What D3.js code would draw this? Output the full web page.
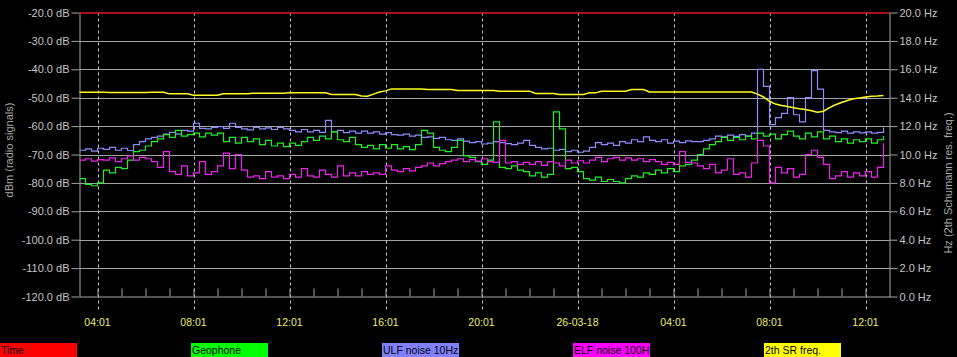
<!DOCTYPE html>
<html>
<head>
<meta charset="utf-8">
<script src="https://cdn.jsdelivr.net/npm/d3@7"></script>
<style>
html,body{margin:0;padding:0;background:#000;}
svg{display:block;}
text{font-family:"Liberation Sans",Arial,sans-serif;}
</style>
</head>
<body>
<svg id="chart" width="957" height="357"></svg>
<script>
// ---------------- DATA ----------------
// sampling: first sample 25-03-18 03:16 (UTC), one sample every 15 minutes
const startTime = "2018-03-25T03:16:00Z";
const sampleMinutes = 15;
const seriesNames = ["Time", "Geophone", "ULF noise 10Hz", "ELF noise 100H", "2th SR freq."];

// Time reference line (dB)
const timeLine = [-20, -20];

// ULF noise 10Hz (dBm)
const ulf = [
 -68.5,-68,-68.8,-67.8,-68.2,-67.5,-68.5,-67.8,-68.6,-66.5,
 -65.5,-64.5,-64,-63.5,-62.8,-62.2,-62.8,-61.5,-61.8,-59,
 -60.8,-61,-60.5,-60.2,-60.8,-59,-60.5,-61,-61.3,-60.5,
 -61,-60.6,-61.2,-60.5,-61,-61.5,-62,-61.2,-62,-61.5,
 -62.2,-58,-62,-61.5,-62.3,-61.8,-62.5,-61.8,-62.5,-62,
 -62.8,-62.3,-63,-63.2,-62.8,-63.5,-63.2,-64,-63.8,-64.3,
 -64,-64.8,-65,-64.5,-65.3,-65.8,-65.5,-66.3,-66,-65.5,
 -65.8,-66.2,-66.5,-66,-65,-66.8,-67.5,-68,-67.8,-68.5,
 -68.2,-69,-68.5,-69.2,-68.8,-67.5,-65.8,-66.5,-66,-66.8,
 -65.5,-66,-64.8,-65.5,-63.8,-65,-65.5,-64.8,-66,-65.3,
 -65.8,-65.2,-65.5,-65.5,-65,-64.5,-63.5,-63.8,-63.2,-63.6,
 -63,-63.5,-62.5,-40,-46,-59.5,-57,-55.5,-50,-56,
 -58.5,-50,-40.5,-47,-61.5,-62,-62.3,-61.8,-62.5,-62,
 -62.4,-62,-62.5,-62.2,-60.5
];

// Geophone (dBm)
const geophone = [
 -78.5,-80.5,-81,-80,-75.5,-76.5,-74.5,-75,-72,-69,
 -68.5,-67,-65.5,-64.5,-63,-64,-61.5,-63.5,-63,-62.5,
 -63.8,-62.5,-63.2,-62.5,-65.5,-64,-66,-64,-65.5,-64.5,
 -66.5,-65,-67,-66,-67.2,-66,-66.8,-65.5,-64,-65,
 -63.5,-64.5,-62,-64.8,-65.5,-64,-66.5,-67.5,-66.8,-68,
 -66.5,-67.8,-66.5,-68,-67.2,-68.3,-66.5,-61.5,-62.5,-67.5,
 -68.5,-69,-67.5,-65,-70.5,-71,-72.5,-73.5,-72,-58.5,
 -74.5,-75,-74,-75.5,-76,-77.5,-76.5,-78,-77,-55,
 -61,-75,-74.5,-76,-78.5,-79,-78,-79.5,-78.8,-79.5,
 -80,-78.5,-77.5,-78,-76.5,-77,-75.5,-76.5,-75,-76,
 -74,-73.5,-72,-70,-68,-66.5,-65.5,-64,-65,-64,
 -64.8,-63.5,-64.5,-62.5,-63.5,-62.8,-64.5,-63,-61.8,-63.5,
 -64.5,-62.5,-63.8,-62,-64.5,-63.5,-65.5,-64.5,-66,-64.8,
 -65.5,-64.5,-66,-64.8,-63.5
];

// ELF noise 100Hz (dBm)
const elf = [
 -72,-71.5,-72.3,-71.8,-72,-71.2,-72.5,-71.5,-70.5,-72,
 -71,-71.5,-72.5,-74.5,-69,-76,-77,-74,-77.5,-76.5,
 -72.5,-77,-76,-74,-69.5,-75,-70,-75.5,-78,-77.5,
 -78.5,-76,-78,-77.5,-78.5,-77,-78,-75,-77.5,-78,
 -75.5,-77,-78,-74,-77.5,-76.5,-77.5,-76,-77,-76.5,
 -77,-74,-75.5,-76,-75,-75.8,-74.5,-74,-73,-74,
 -73.2,-72.5,-72,-71.5,-72.5,-71.8,-72.3,-71.5,-72.5,-72.8,
 -65,-73,-72.5,-73.5,-72.8,-73.5,-72.5,-73.8,-72.5,-73,
 -74,-72,-73,-72.2,-73,-72,-71,-72.5,-71.5,-71,
 -72,-71.2,-72,-71.5,-72.5,-71.8,-72.5,-73.5,-72.8,-73.5,
 -69,-72.8,-73,-74,-75,-73.5,-76.5,-75.5,-71.5,-77,
 -76.5,-78,-73,-65,-67,-80,-74.5,-76.5,-75,-78,
 -77,-70,-68.5,-71,-73.5,-78.5,-77.5,-76,-78,-76.5,
 -77.5,-76,-78,-74.5,-66
];

// 2nd Schumann resonance frequency (Hz, right axis)
const srFreq = [
 14.39,14.39,14.39,14.39,14.39,14.36,14.36,14.36,14.36,14.36,
 14.36,14.36,14.39,14.39,14.39,14.27,14.27,14.27,14.27,14.18,
 14.18,14.18,14.18,14.18,14.27,14.27,14.27,14.27,14.27,14.32,
 14.32,14.32,14.32,14.32,14.32,14.34,14.34,14.34,14.34,14.34,
 14.34,14.34,14.22,14.22,14.22,14.22,14.22,14.12,14.1,14.25,
 14.4,14.48,14.62,14.62,14.62,14.62,14.62,14.62,14.58,14.58,
 14.58,14.58,14.58,14.5,14.5,14.5,14.5,14.5,14.5,14.5,
 14.46,14.46,14.46,14.46,14.46,14.46,14.3,14.3,14.3,14.3,
 14.22,14.22,14.22,14.22,14.22,14.34,14.34,14.46,14.46,14.46,
 14.46,14.46,14.58,14.58,14.58,14.4,14.4,14.4,14.4,14.4,
 14.4,14.4,14.4,14.4,14.4,14.4,14.4,14.4,14.4,14.4,
 14.4,14.4,14.4,14.25,14.05,13.75,13.55,13.45,13.38,13.3,
 13.22,13.17,13.08,12.98,13.05,13.3,13.5,13.66,13.8,13.92,
 13.98,14.05,14.1,14.12,14.15
];

// axis ticks
const dbTicks = [-120,-110,-100,-90,-80,-70,-60,-50,-40,-30,-20];
const hzTicks = [0,2,4,6,8,10,12,14,16,18,20];
const xTickTimes = ["2018-03-25T04:01:00Z","2018-03-25T08:01:00Z","2018-03-25T12:01:00Z",
  "2018-03-25T16:01:00Z","2018-03-25T20:01:00Z","2018-03-26T00:01:00Z",
  "2018-03-26T04:01:00Z","2018-03-26T08:01:00Z","2018-03-26T12:01:00Z"];
const xTickLabels = ["04:01","08:01","12:01","16:01","20:01","26-03-18","04:01","08:01","12:01"];
const xDomain = ["2018-03-25T03:16:00Z","2018-03-26T13:01:00Z"];

// ---------------- DRAW ----------------
const svg = d3.select("#chart");
const L = 79.5, R = 889.5, T = 12.5, B = 296.5;
const t0 = new Date(startTime).getTime();
const timeAt = i => new Date(t0 + i * sampleMinutes * 60000);

const x = d3.scaleUtc().domain(xDomain.map(d => new Date(d))).range([L, R]);
const y = d3.scaleLinear().domain([-120, -20]).range([B, T]);
const yHz = d3.scaleLinear().domain([0, 20]).range([B, T]);

const gridCol = "#a4a4a4", textCol = "#c4c4c4";

// horizontal grid
svg.append("g").selectAll("line").data(dbTicks.filter(d => d > -120 && d < -20)).join("line")
  .attr("x1", L).attr("x2", R).attr("y1", d => Math.round(y(d)) + 0.5).attr("y2", d => Math.round(y(d)) + 0.5)
  .attr("stroke", gridCol).attr("stroke-width", 1);

// vertical dashed grid
svg.append("g").selectAll("line").data(xTickTimes).join("line")
  .attr("x1", d => Math.round(x(new Date(d))) + 0.5).attr("x2", d => Math.round(x(new Date(d))) + 0.5)
  .attr("y1", T).attr("y2", 312)
  .attr("stroke", "#c8c8c8").attr("stroke-width", 1).attr("stroke-dasharray", "3,3");

// hourly minor ticks
const hourTicks = d3.utcHour.range(new Date("2018-03-25T04:00:00Z"), new Date("2018-03-26T13:00:00Z"))
  .map(d => new Date(+d + 60000));
svg.append("g").attr("transform", `translate(0,${B})`)
  .call(d3.axisBottom(x).tickValues(hourTicks).tickSize(-8).tickSizeOuter(0).tickFormat(""))
  .call(g => g.selectAll("line").attr("stroke", gridCol))
  .call(g => g.select(".domain").attr("stroke", gridCol));

// x labels
svg.append("g").selectAll("text").data(xTickTimes).join("text")
  .attr("x", d => x(new Date(d))).attr("y", 326)
  .attr("text-anchor", "middle").attr("fill", "#eeee66").attr("font-size", "10.5px")
  .text((d, i) => xTickLabels[i]);

// left axis
svg.append("g").attr("transform", `translate(${L},0)`)
  .call(d3.axisLeft(y).tickValues(dbTicks).tickSize(8).tickSizeOuter(0).tickPadding(2)
    .tickFormat(d => d.toFixed(1) + " dB"))
  .call(g => g.selectAll("line").attr("stroke", gridCol))
  .call(g => g.select(".domain").attr("stroke", gridCol))
  .call(g => g.selectAll("text").attr("fill", textCol).attr("font-size", "11px")
    .attr("font-family", "Liberation Sans, Arial, sans-serif"));

// right axis
svg.append("g").attr("transform", `translate(${R},0)`)
  .call(d3.axisRight(yHz).tickValues(hzTicks).tickSize(8).tickSizeOuter(0).tickPadding(2)
    .tickFormat(d => d.toFixed(1) + " Hz"))
  .call(g => g.selectAll("line").attr("stroke", gridCol))
  .call(g => g.select(".domain").attr("stroke", gridCol))
  .call(g => g.selectAll("text").attr("fill", textCol).attr("font-size", "11px")
    .attr("font-family", "Liberation Sans, Arial, sans-serif"));

// axis titles
svg.append("text").attr("transform", "translate(13,150) rotate(-90)")
  .attr("text-anchor", "middle").attr("fill", "#a8a8a8").attr("font-size", "11px")
  .text("dBm (radio signals)");
svg.append("text").attr("transform", "translate(952,183) rotate(-90)")
  .attr("text-anchor", "middle").attr("fill", "#a8a8a8").attr("font-size", "11px")
  .text("Hz (2th Schumann res. freq.)");

// series
const lineDb = d3.line().x((d, i) => x(timeAt(i))).y(d => y(d)).curve(d3.curveStepAfter);
const lineHz = d3.line().x((d, i) => x(timeAt(i))).y(d => yHz(d)).curve(d3.curveLinear);

svg.append("line").attr("x1", L).attr("x2", R).attr("y1", y(timeLine[0]) + 0.5).attr("y2", y(timeLine[1]) + 0.5)
  .attr("stroke", "#e01818").attr("stroke-width", 1.5);

const plot = svg.append("g");
plot.append("path").datum(ulf).attr("d", lineDb).attr("fill", "none").attr("stroke", "#8c8cff").attr("stroke-width", 1.2);
plot.append("path").datum(geophone).attr("d", lineDb).attr("fill", "none").attr("stroke", "#22ee22").attr("stroke-width", 1.2);
plot.append("path").datum(elf).attr("d", lineDb).attr("fill", "none").attr("stroke", "#ee22ee").attr("stroke-width", 1.2);
plot.append("path").datum(srFreq).attr("d", lineHz).attr("fill", "none").attr("stroke", "#ffff22").attr("stroke-width", 1.5);

// legend
const legendColors = ["#ff0000", "#00ff00", "#8080ff", "#ff00ff", "#ffff00"];
const lg = svg.append("g").selectAll("g").data(seriesNames).join("g")
  .attr("transform", (d, i) => `translate(${i * 191},343)`);
lg.append("clipPath").attr("id", (d, i) => "lc" + i).append("rect").attr("width", 77).attr("height", 14);
lg.append("rect").attr("width", 77).attr("height", 14).attr("fill", (d, i) => legendColors[i]);
lg.append("text").attr("x", 1).attr("y", 11).attr("fill", "#000").attr("font-size", "10.5px")
  .attr("clip-path", (d, i) => `url(#lc${i})`).text(d => d);
</script>
</body>
</html>
